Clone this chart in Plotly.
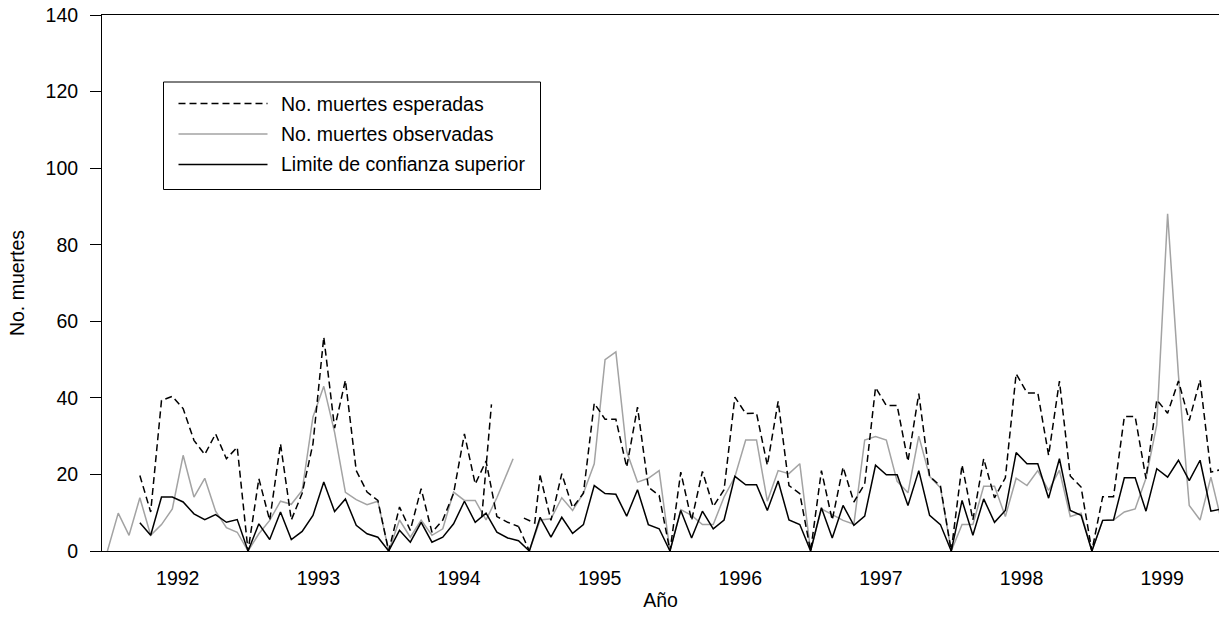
import plotly.graph_objects as go

# Category positions: each year block = a zero separator followed by 12 monthly values (13 per block)
years = ["1992", "1993", "1994", "1995", "1996", "1997", "1998", "1999"]
year_pos = [6.5, 19.5, 32.5, 45.5, 58.5, 71.5, 84.5, 97.5]

esperadas = [
    None, None, None, 19.7, 10.2, 39.3, 40.4, 37.2, 28.9, 25.2, 30.6, 24.1, 27.1,
    0, 18.9, 8.0, 28.0, 8.1, 15.1, 28.0, 55.9, 32.1, 44.6, 21.0, 15.4, 13.2,
    0, 11.5, 5.4, 16.3, 4.9, 8.1, 15.1, 30.6, 17.5, 23.5, 9.0, 7.5, 6.4,
    None, 19.7, 8.0, 20.2, 11.3, 15.1, 38.6, 34.4, 34.4, 21.9, 37.6, 16.7, 14.5,
    0, 20.6, 8.0, 20.8, 11.6, 16.0, 40.2, 35.9, 36.0, 22.4, 39.1, 17.1, 15.0,
    0, 21.0, 8.1, 21.9, 12.8, 17.5, 42.7, 38.0, 38.0, 23.4, 41.1, 19.5, 17.0,
    0, 22.5, 8.1, 24.1, 13.9, 19.1, 46.3, 41.3, 41.3, 25.0, 44.4, 19.6, 16.7,
    0, 14.2, 14.2, 35.1, 35.1, 18.9, 39.5, 36.0, 44.4, 34.1, 44.7, 20.6, 21.3,
]
esperadas_extra_x = [34.6, 35.5, None, 38, 39, None, 38.5, 39.5, 40]
esperadas_extra_y = [8.8, 38.3, None, 6.4, 0, None, 8.6, 7.3, 19.7]

observadas = [
    0, 9.9, 4.1, 13.9, 4.1, 6.9, 11.0, 25.0, 14.1, 19.0, 10.4, 6.1, 4.9,
    0, 4.5, 8.0, 13.0, 12.2, 15.8, 35.0, 43.0, 31.0, 15.3, 13.4, 12.1, 13.0,
    0, 8.1, 3.6, 8.1, 4.1, 5.8, 15.4, 13.2, 13.2, 8.1, 13.9, None, None,
    0, 8.1, 8.4, 13.9, 10.6, 15.1, 22.8, 50.0, 52.0, 26.0, 18.0, 19.0, 21.0,
    0, 10.8, 9.3, 6.9, 6.9, 14.1, 19.4, 29.0, 29.0, 13.0, 21.0, 20.2, 22.8,
    0, 11.0, 9.5, 8.0, 7.0, 29.0, 29.9, 29.0, 18.2, 15.2, 30.0, 19.5, 16.5,
    0, 6.9, 6.9, 16.9, 16.9, 9.0, 19.0, 17.1, 21.0, 15.8, 21.1, 9.0, 9.9,
    0, 8.0, 8.1, 10.2, 11.0, 19.0, 33.0, 88.1, 46.0, 11.9, 8.1, 19.3, 7.6,
]
observadas_extra_x = [36, 37.5]
observadas_extra_y = [13.9, 24.1]

limite = [
    None, None, None, 7.4, 4.1, 14.1, 14.1, 12.8, 9.7, 8.2, 9.5, 7.5, 8.2,
    0, 7.1, 3.0, 10.2, 3.0, 5.1, 9.3, 18.0, 10.3, 13.6, 6.7, 4.5, 3.6,
    0, 5.4, 2.3, 7.5, 2.3, 3.6, 7.1, 13.0, 7.5, 9.9, 4.9, 3.4, 2.7,
    0, 8.8, 3.6, 8.8, 4.6, 6.9, 17.1, 15.0, 14.8, 9.1, 16.0, 6.9, 5.8,
    0, 10.6, 3.4, 10.4, 5.8, 8.1, 19.5, 17.3, 17.3, 10.6, 18.3, 8.1, 6.9,
    0, 11.3, 3.4, 11.9, 6.7, 9.1, 22.4, 19.9, 19.9, 11.9, 21.0, 9.3, 6.9,
    0, 13.2, 4.1, 13.6, 7.5, 10.6, 25.7, 22.8, 22.8, 13.8, 24.1, 10.6, 9.3,
    0, 8.0, 8.1, 19.1, 19.1, 10.4, 21.5, 19.3, 23.7, 18.4, 23.7, 10.4, 11.0,
]

series_names = ["No. muertes esperadas", "No. muertes observadas", "Limite de confianza superior"]
GREY = "#a3a3a3"
DASH = "7px,4px"
FONT = "Liberation Sans, Arial, sans-serif"
FS = 19.5

x = list(range(len(esperadas)))

fig = go.Figure()
fig.add_trace(go.Scatter(x=x, y=observadas, mode="lines", name=series_names[1],
                         line=dict(color=GREY, width=1.5), connectgaps=False, showlegend=False))
fig.add_trace(go.Scatter(x=observadas_extra_x, y=observadas_extra_y, mode="lines",
                         line=dict(color=GREY, width=1.5), showlegend=False))
fig.add_trace(go.Scatter(x=x, y=limite, mode="lines", name=series_names[2],
                         line=dict(color="black", width=1.5), connectgaps=False, showlegend=False))
fig.add_trace(go.Scatter(x=x, y=esperadas, mode="lines", name=series_names[0],
                         line=dict(color="black", width=1.5, dash=DASH), connectgaps=False, showlegend=False))
fig.add_trace(go.Scatter(x=esperadas_extra_x, y=esperadas_extra_y, mode="lines",
                         line=dict(color="black", width=1.5, dash=DASH), showlegend=False))

L, T, W, H = 102, 15, 1117, 536   # plot area in window pixels
FIG_W, FIG_H = 1219, 618

def px(v):
    return (v - L) / W
def py(v):
    return (T + H - v) / H

shapes = [dict(type="rect", xref="paper", yref="paper",
               x0=px(163.5), x1=px(540.5), y0=py(189.5), y1=py(82),
               line=dict(color="black", width=1), fillcolor="white", layer="above")]
styles = [dict(color="black", width=1.5, dash=DASH),
          dict(color=GREY, width=1.5),
          dict(color="black", width=1.5)]
rows = [103.5, 134, 164.5]
annotations = []
for name, st, yy in zip(series_names, styles, rows):
    shapes.append(dict(type="line", xref="paper", yref="paper",
                       x0=px(178.5), x1=px(267.5), y0=py(yy), y1=py(yy), line=st, layer="above"))
    annotations.append(dict(text=name, xref="paper", yref="paper", x=px(279), y=py(yy),
                            xanchor="left", yanchor="middle", showarrow=False,
                            font=dict(family=FONT, size=FS, color="black")))

fig.update_layout(
    width=FIG_W, height=FIG_H,
    margin=dict(l=L, r=FIG_W - L - W, t=T, b=FIG_H - T - H),
    paper_bgcolor="white", plot_bgcolor="white",
    font=dict(family=FONT, size=FS, color="black"),
    shapes=shapes, annotations=annotations,
    showlegend=False,
)
fig.update_xaxes(range=[-0.5, 102.75], tickvals=year_pos, ticktext=years,
                 ticks="", showgrid=False, zeroline=False,
                 showline=True, linecolor="black", linewidth=1, mirror=True,
                 ticklabelstandoff=10,
                 title=dict(text="Año", standoff=4, font=dict(family=FONT, size=FS)))
fig.update_yaxes(range=[0, 140], tickvals=list(range(0, 141, 20)),
                 ticks="outside", ticklen=11, tickcolor="black", tickwidth=1,
                 showgrid=False, zeroline=False,
                 showline=True, linecolor="black", linewidth=1,
                 ticklabelstandoff=8, ticklabeloverflow="allow",
                 title=dict(text="No. muertes", standoff=15, font=dict(family=FONT, size=FS)))

# remove the default 8px page margin so the figure sits at the window's top-left corner
fig.write_html("out.html", config={"displayModeBar": False},
               post_script="document.body.style.margin='0px';")
